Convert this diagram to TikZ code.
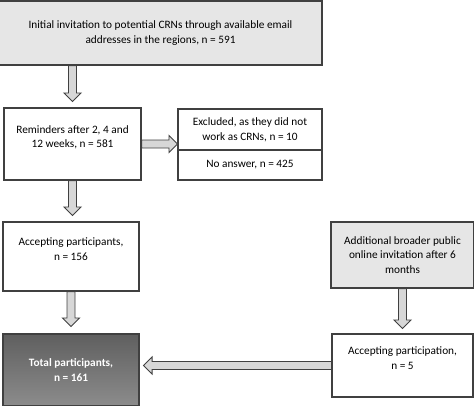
\documentclass[tikz,border=0pt]{standalone}
\usepackage{fontspec}
\setmainfont{Carlito}
\usetikzlibrary{calc}

\definecolor{boxline}{RGB}{64,64,64}
\definecolor{lightfill}{RGB}{230,230,230}
\definecolor{arrowfill}{RGB}{215,215,215}
\definecolor{totaltop}{RGB}{95,95,95}
\definecolor{totalbot}{RGB}{140,140,140}

\tikzset{
  box/.style={draw=boxline, line width=1.1pt, fill=white, align=center,
    inner sep=2pt, font=\fontsize{11.3}{14.8}\selectfont},
  graybox/.style={box, fill=lightfill},
  darkbox/.style={box, top color=totaltop, bottom color=totalbot,
    text=white, font=\fontsize{11.3}{14.8}\selectfont\bfseries},
  blockarr/.style={draw=boxline, line width=0.9pt, fill=arrowfill, line join=miter}
}

% block arrow from one point to another
\newcommand{\blockarrow}[2]{%
  \draw[blockarr] let \p1=(#1), \p2=(#2),
    \n1={veclen(\x2-\x1,\y2-\y1)}, \n2={atan2(\y2-\y1,\x2-\x1)} in
    [shift={(\p1)}, rotate=\n2] (0pt,4pt) -- ({\n1-8.5pt},4pt) -- ({\n1-8.5pt},8.5pt)
    -- ({\n1+0pt},0pt) -- ({\n1-8.5pt},-8.5pt) -- ({\n1-8.5pt},-4pt) -- (0pt,-4pt) -- cycle;}

\begin{document}
\begin{tikzpicture}[x=1pt, y=1pt]
    \useasboundingbox (0,0) rectangle (474,-405);

    % boxes
    \node[graybox, minimum width=323, minimum height=64] (init) at (160.5,-33)
        {Initial invitation to potential CRNs through available email\\addresses in the regions, n = 591};
    \node[box, minimum width=137, minimum height=72] (rem) at (72.5,-144)
        {Reminders after 2, 4 and\\12 weeks, n = 581\\\mbox{}};
    \node[box, minimum width=144, minimum height=41] (excl) at (250,-129.5)
        {Excluded, as they did not\\work as CRNs, n = 10};
    \node[box, minimum width=144, minimum height=30] (noans) at (250,-165)
        {No answer, n = 425};
    \node[box, minimum width=136, minimum height=69] (acc) at (71,-256.5)
        {Accepting participants,\\n = 156\\\mbox{}};
    \node[graybox, minimum width=143, minimum height=66] (add) at (402.5,-255)
        {Additional broader public\\online invitation after 6\\months};
    \node[darkbox, minimum width=136, minimum height=72] (total) at (71,-370)
        {Total participants,\\n = 161};
    \node[box, minimum width=141, minimum height=63] (accp) at (402.5,-365.5)
        {Accepting participation,\\n = 5\\\mbox{}};

    % arrows
    \blockarrow{init.south -| rem.north}{$(rem.north)+(0,6)$}
    \blockarrow{rem.east}{excl.west |- rem.east}
    \blockarrow{rem.south}{$(acc.north -| rem.south)+(0,6)$}
    \blockarrow{acc.south}{$(total.north)+(0,7)$}
    \blockarrow{add.south -| accp.north}{$(accp.north)+(0,5)$}
    \blockarrow{accp.west}{$(total.east |- accp.west)+(4,0)$}
\end{tikzpicture}
\end{document}
